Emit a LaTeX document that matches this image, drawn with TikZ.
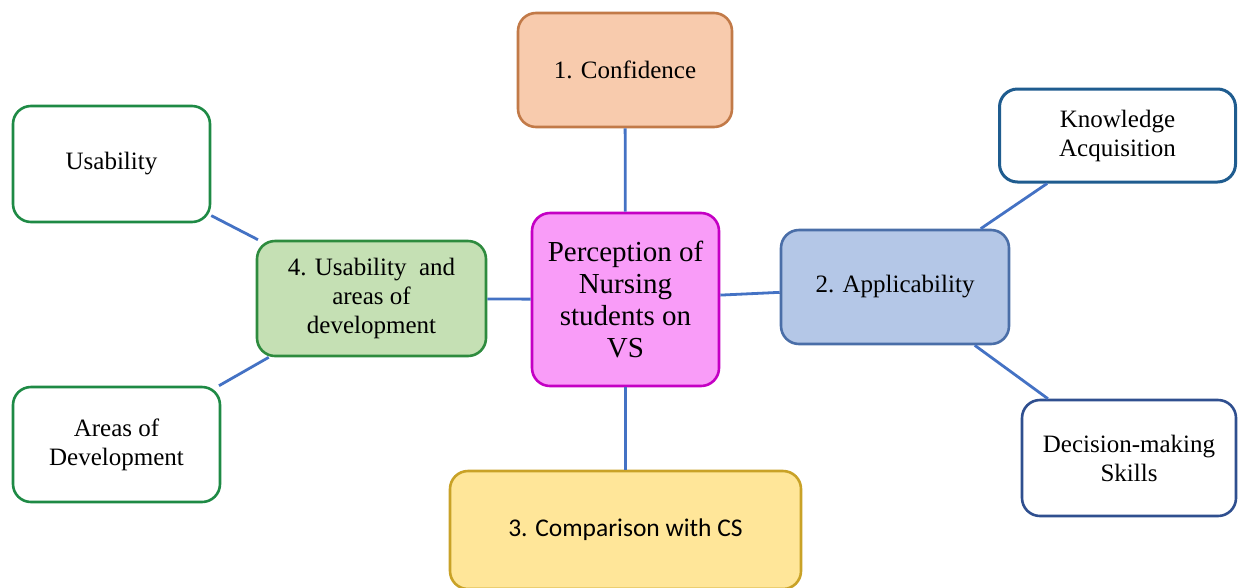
\documentclass[tikz,border=0pt]{standalone}
\usepackage{fontspec}
\setmainfont{Liberation Serif}
\newfontfamily\calfont{Carlito}
\definecolor{conf}{HTML}{F8CBAD}\definecolor{confd}{HTML}{C27A48}
\definecolor{cen}{HTML}{F99CF8}\definecolor{cend}{HTML}{C400C4}
\definecolor{app}{HTML}{B4C7E7}\definecolor{appd}{HTML}{4A6EA8}
\definecolor{kad}{HTML}{1F5C8F}\definecolor{dmd}{HTML}{2F4F8F}
\definecolor{cmp}{HTML}{FFE699}\definecolor{cmpd}{HTML}{C9A227}
\definecolor{ua}{HTML}{C5E0B4}\definecolor{uad}{HTML}{2E8B3E}
\definecolor{grn}{HTML}{1E8A45}
\definecolor{link}{HTML}{4472C4}
\tikzset{
  box/.style={rectangle, rounded corners=18pt, line width=2.6pt, align=center, inner sep=2pt,
    font=\fontsize{25}{29}\selectfont},
  link/.style={draw=link, line width=2.8pt}
}
\begin{document}
\begin{tikzpicture}[x=1pt,y=-1pt]
\useasboundingbox (0,0) rectangle (1238,587);
\node[box, fill=conf, draw=confd, minimum width=214pt, minimum height=114pt] (c1) at (625,70) {1. Confidence};
\node[box, fill=cen, draw=cend, minimum width=187pt, minimum height=173pt, font=\fontsize{29}{32}\selectfont] (cen) at (625.5,299.5) {Perception of\\Nursing\\students on\\VS};
\node[box, fill=app, draw=appd, minimum width=228pt, minimum height=114pt] (app) at (895,287) {2. Applicability};
\node[box, fill=white, draw=kad, line width=3pt, minimum width=236pt, minimum height=93pt] (ka) at (1117.5,135.5) {Knowledge\\Acquisition};
\node[box, fill=white, draw=dmd, minimum width=214pt, minimum height=116pt] (dm) at (1129,458) {Decision-making\\Skills};
\node[box, fill=cmp, draw=cmpd, minimum width=351pt, minimum height=118pt, font=\calfont\fontsize{25.5}{29}\selectfont] (cmp) at (625.5,530) {3. Comparison with CS};
\node[box, fill=ua, draw=uad, minimum width=229pt, minimum height=115pt] (ua) at (371.5,298.5) {4. Usability~ and\\areas of\\development};
\node[box, fill=white, draw=grn, minimum width=197pt, minimum height=116pt] (us) at (111.5,164) {Usability};
\node[box, fill=white, draw=grn, minimum width=207pt, minimum height=115pt] (ad) at (116.5,444.5) {Areas of\\Development};
\draw[link] (c1) -- (cen);
\draw[link] (cen) -- (cmp);
\draw[link] (cen) -- (ua);
\draw[link] (cen) -- (app);
\draw[link] (app) -- (ka);
\draw[link] (app) -- (dm);
\draw[link] (ua) -- (us);
\draw[link] (ua) -- (ad);
\end{tikzpicture}
\end{document}
